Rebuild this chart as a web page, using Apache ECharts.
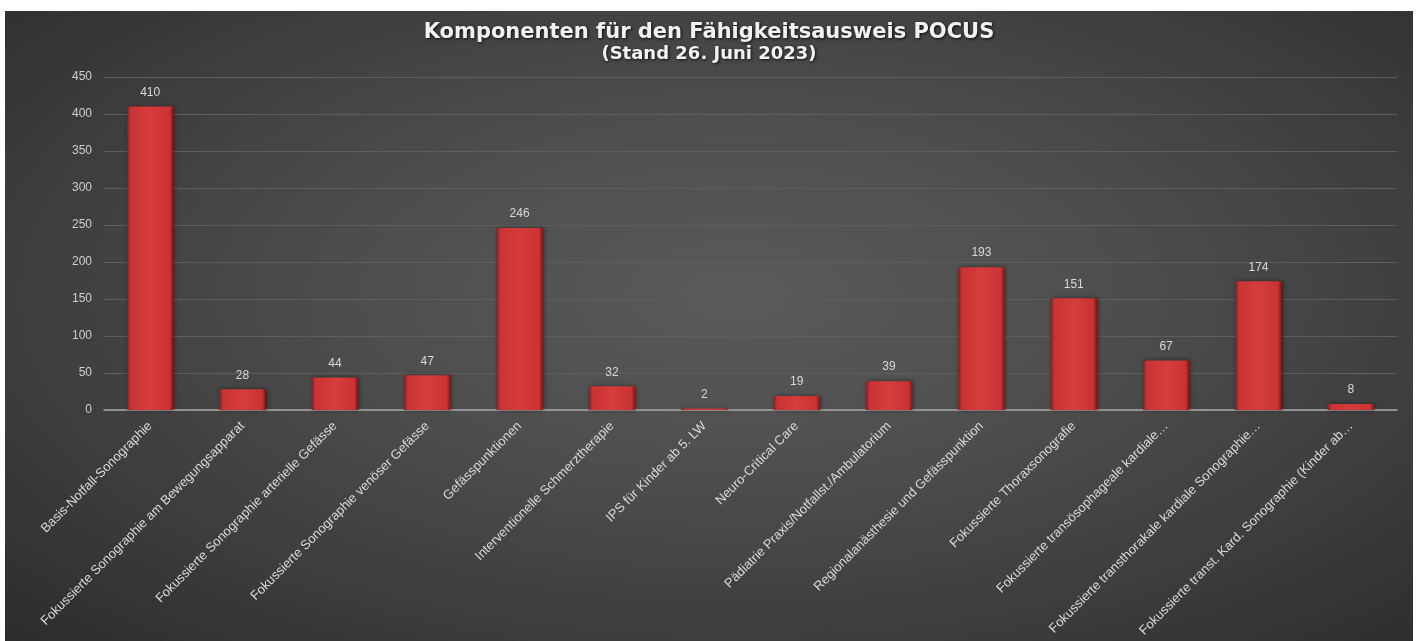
<!DOCTYPE html>
<html>
<head>
<meta charset="utf-8">
<script src="https://cdn.jsdelivr.net/npm/echarts@6/dist/echarts.min.js"></script>
<style>
html,body{margin:0;padding:0;background:#ffffff;width:1416px;height:641px;overflow:hidden;}
#c{position:absolute;left:5px;top:11px;width:1408px;height:630px;
background:radial-gradient(ellipse 75% 80% at 52% 45%, #5a5a5a 0%, #4e4e4e 35%, #3c3c3c 70%, #2b2b2b 100%);}
</style>
</head>
<body>
<div id="c"></div>
<script>
const titleText = 'Komponenten für den Fähigkeitsausweis POCUS';
const subtitleText = '(Stand 26. Juni 2023)';
const categories = [
  'Basis-Notfall-Sonographie',
  'Fokussierte Sonographie am Bewegungsapparat',
  'Fokussierte Sonographie arterielle Gefässe',
  'Fokussierte Sonographie venöser Gefässe',
  'Gefässpunktionen',
  'Interventionelle Schmerztherapie',
  'IPS für Kinder ab 5. LW',
  'Neuro-Critical Care',
  'Pädiatrie Praxis/Notfallst./Ambulatorium',
  'Regionalanästhesie und Gefässpunktion',
  'Fokussierte Thoraxsonografie',
  'Fokussierte transösophageale kardiale…',
  'Fokussierte transthorakale kardiale Sonographie…',
  'Fokussierte transt. Kard. Sonographie (Kinder ab…'
];
const values = [410, 28, 44, 47, 246, 32, 2, 19, 39, 193, 151, 67, 174, 8];
const yTicks = {min: 0, max: 450, interval: 50};

const chart = echarts.init(document.getElementById('c'), null, {renderer: 'canvas'});
chart.setOption({
  backgroundColor: 'transparent',
  animation: false,
  title: {
    text: titleText,
    subtext: subtitleText,
    left: 'center',
    top: 6,
    itemGap: 2,
    textStyle: {
      color: '#f2f2f2', fontSize: 21, fontWeight: 'bold',
      fontFamily: 'DejaVu Sans',
      textShadowColor: 'rgba(0,0,0,0.8)', textShadowBlur: 3, textShadowOffsetX: 1, textShadowOffsetY: 1
    },
    subtextStyle: {
      color: '#f2f2f2', fontSize: 18, fontWeight: 'bold',
      fontFamily: 'DejaVu Sans',
      textShadowColor: 'rgba(0,0,0,0.8)', textShadowBlur: 3, textShadowOffsetX: 1, textShadowOffsetY: 1
    }
  },
  grid: {left: 99, right: 16, top: 66, bottom: 231, containLabel: false},
  xAxis: {
    type: 'category',
    data: categories,
    axisLine: {show: true, lineStyle: {color: '#a8a8a8', width: 1.5}},
    axisTick: {show: false},
    axisLabel: {
      interval: 0, rotate: 45, color: '#d9d9d9', fontSize: 13,
      fontFamily: 'Liberation Sans, Arial, sans-serif', margin: 14
    }
  },
  yAxis: {
    type: 'value',
    min: yTicks.min, max: yTicks.max, interval: yTicks.interval,
    axisLine: {show: false},
    axisTick: {show: false},
    splitLine: {lineStyle: {color: '#5e5e5e', width: 1}},
    axisLabel: {color: '#cfcfcf', fontSize: 12, fontFamily: 'Liberation Sans, Arial, sans-serif', margin: 12}
  },
  series: [{
    type: 'bar',
    data: values,
    barCategoryGap: '50%',
    itemStyle: {
      color: {
        type: 'linear', x: 0, y: 0, x2: 1, y2: 0,
        colorStops: [
          {offset: 0, color: '#8e1c1c'},
          {offset: 0.08, color: '#c83333'},
          {offset: 0.5, color: '#d83c3c'},
          {offset: 0.92, color: '#c83333'},
          {offset: 1, color: '#7e1717'}
        ]
      },
      shadowColor: 'rgba(0,0,0,0.45)', shadowBlur: 4, shadowOffsetX: 1, shadowOffsetY: 0
    },
    label: {
      show: true, position: 'top', distance: 8,
      color: '#d9d9d9', fontSize: 12, fontFamily: 'Liberation Sans, Arial, sans-serif'
    }
  }]
});
</script>
</body>
</html>
